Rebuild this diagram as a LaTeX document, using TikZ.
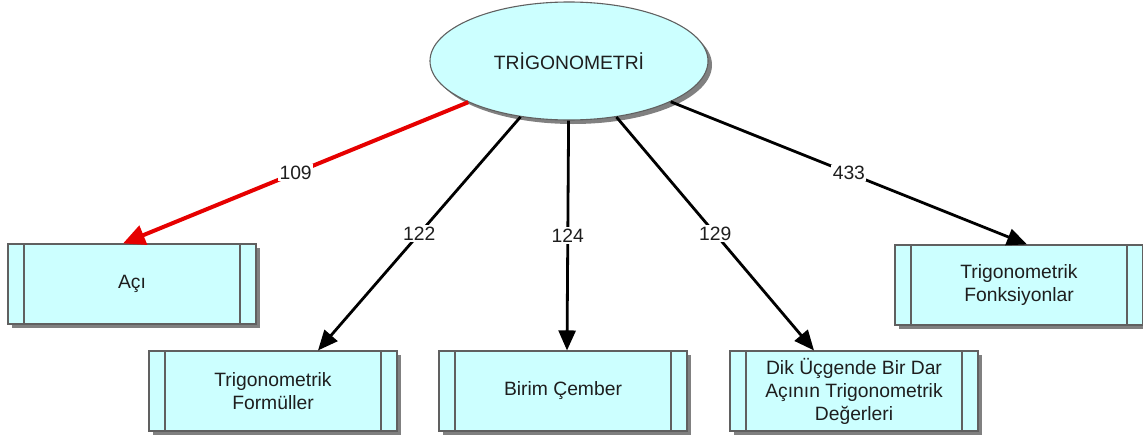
\documentclass[tikz,border=0pt]{standalone}
\usepackage{fontspec}
\setmainfont{Liberation Sans}
\usetikzlibrary{shapes.geometric,arrows.meta,shadows,calc}
\definecolor{boxfill}{HTML}{CCFFFF}
\definecolor{boxline}{HTML}{606060}
\definecolor{shadowc}{HTML}{808080}
\definecolor{txt}{HTML}{1E1E1E}
\definecolor{redline}{HTML}{E60000}
\begin{document}
\begin{tikzpicture}[x=1pt,y=-1pt,
  every node/.style={font=\fontsize{19.3}{23}\selectfont, text=txt},
  topic/.style={ellipse, draw=boxline, line width=1.1pt, fill=boxfill,
    minimum width=278pt, minimum height=118pt, inner sep=0pt,
    drop shadow={shadow xshift=4pt, shadow yshift=-4pt, fill=shadowc, opacity=1}},
  concept/.style={rectangle, draw=boxline, line width=1.1pt, fill=boxfill,
    minimum width=248pt, minimum height=80pt, inner sep=0pt, align=center,
    drop shadow={shadow xshift=4pt, shadow yshift=-4pt, fill=shadowc, opacity=1},
    path picture={
      \draw[boxline, line width=1.1pt]
        ([xshift=16pt]path picture bounding box.north west) -- ([xshift=16pt]path picture bounding box.south west)
        ([xshift=-16pt]path picture bounding box.north east) -- ([xshift=-16pt]path picture bounding box.south east);
    }},
  link/.style={line width=2.8pt, black, -{Triangle[length=20pt,width=17pt]}},
  redlink/.style={line width=4pt, redline, -{Triangle[length=22pt,width=20pt]}},
  num/.style={fill=white, inner sep=1.5pt, midway}
]
\useasboundingbox (0,0) rectangle (1143,439);

\node[topic] (trig) at (569,61) {TRİGONOMETRİ};

\node[concept] (aci) at (132,284) {Açı};
\node[concept] (form) at (273,391) {Trigonometrik\\Formüller};
\node[concept] (birim) at (563,391) {Birim Çember};
\node[concept] (dik) at (854,391) {Dik Üçgende Bir Dar\\Açının Trigonometrik\\Değerleri};
\node[concept] (fonk) at (1019,285) {Trigonometrik\\Fonksiyonlar};

\coordinate (taci) at ([xshift=-9pt]aci.north);
\coordinate (tform) at ([xshift=45pt]form.north);
\coordinate (tbirim) at ([xshift=4pt]birim.north);
\coordinate (tdik) at ([xshift=-40pt]dik.north);
\coordinate (tfonk) at ([xshift=8pt]fonk.north);

\draw[redlink] (trig) -- (taci) node[num] {109};
\draw[link] (trig) -- (tform) node[num] {122};
\draw[link] (trig) -- (tbirim) node[num] {124};
\draw[link] (trig) -- (tdik) node[num] {129};
\draw[link] (trig) -- (tfonk) node[num] {433};
\end{tikzpicture}
\end{document}
